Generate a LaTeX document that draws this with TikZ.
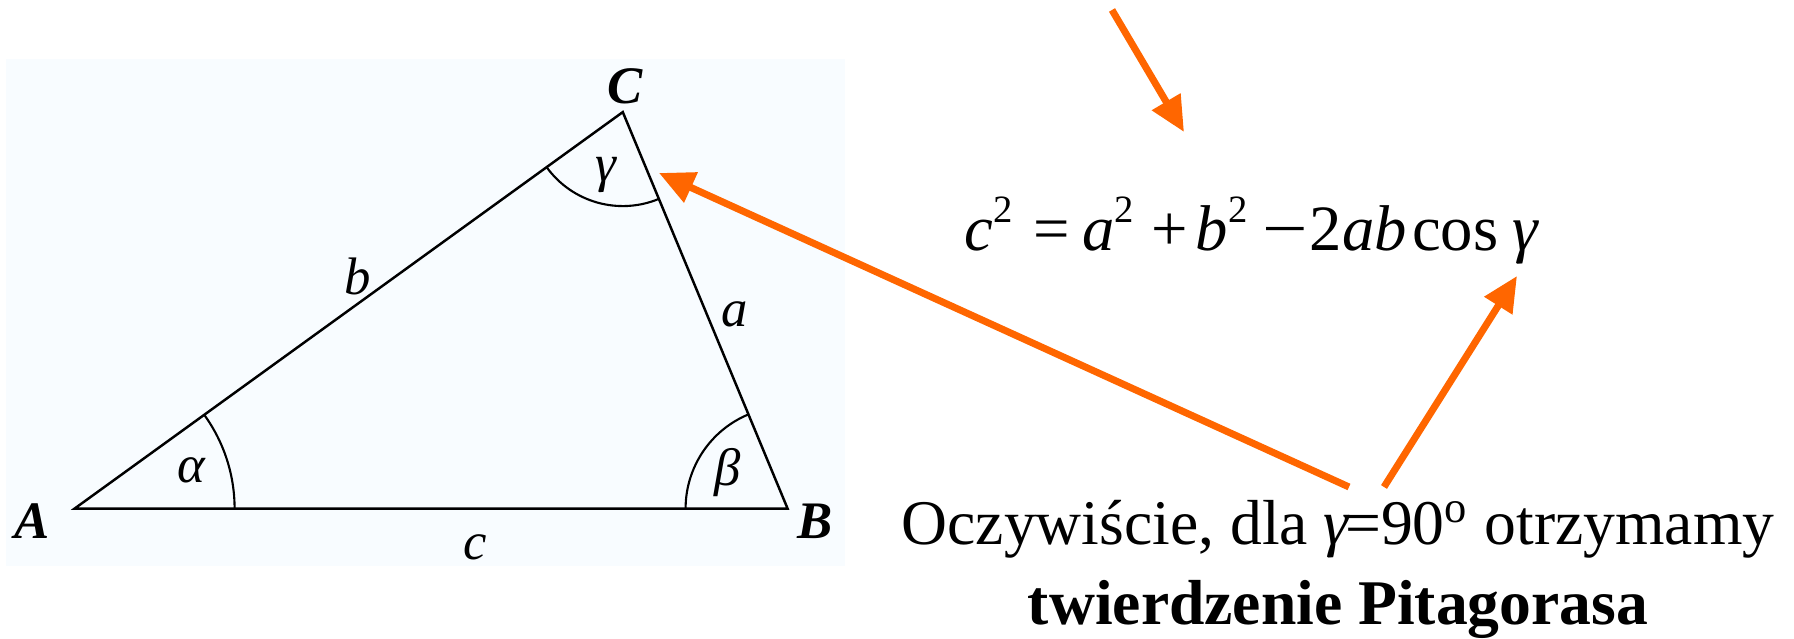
\documentclass[tikz,border=0pt]{standalone}
\usepackage{fontspec}
\setmainfont{Liberation Serif}
\usetikzlibrary{arrows.meta,angles,positioning}
\definecolor{hintorange}{RGB}{255,102,0}
\definecolor{paneblue}{RGB}{248,252,255}
\newcommand{\sqtwo}{\raisebox{8pt}{\fontsize{11}{11}\selectfont 2}}
\tikzset{
  tri edge/.style={line width=.7pt},
  tri arc/.style={draw,line width=.6pt},
  side label/.style={font=\fontsize{15}{18}\selectfont\itshape,inner sep=0pt},
  vertex label/.style={font=\fontsize{15}{18}\selectfont\bfseries\itshape,inner sep=0pt},
  hint arrow/.style={draw=hintorange,line width=2pt,-{Triangle[length=10pt,width=9pt]}},
  big text/.style={font=\fontsize{18.1}{22.6}\selectfont,inner sep=0pt}
}

\begin{document}
\begin{tikzpicture}
  \useasboundingbox (0,0) rectangle (17.94,6.39);
  \fill[paneblue] (0.06,0.73) rectangle (8.45,5.80);

  \coordinate (A) at (0.746,1.304);
  \coordinate (B) at (7.876,1.304);
  \coordinate (C) at (6.228,5.269);

  \draw[tri edge] (A)--(B)--(C)--cycle;
  \pic[tri arc,angle radius=1.6cm]  {angle=B--A--C};
  \pic[tri arc,angle radius=1.02cm] {angle=C--B--A};
  \pic[tri arc,angle radius=0.94cm] {angle=A--C--B};

  \node[vertex label] (labA) at (0.316,1.174) {A};
  \node[vertex label] (labB) at (8.150,1.174) {B};
  \node[vertex label] (labC) at (6.246,5.526) {C};
  \node[side label] (laba) at (7.350,3.250) {a};
  \node[side label] (labb) at (3.575,3.625) {b};
  \node[side label] (labc) at (4.753,0.915) {c};
  \node[side label] (alpha) at (1.910,1.683) {α};
  \node[side label] (beta)  at (7.280,1.663) {β};
  \node[side label] (gamma) at (6.056,4.640) {γ};

  \node[big text,font=\fontsize{18.4}{22.6}\selectfont,anchor=base west] (formula) at (9.64,3.88)
    {\textit{c}\sqtwo\kern5.8pt=\kern3.7pt\textit{a}\sqtwo\kern4.8pt+\kern2.3pt\textit{b}\sqtwo\kern4.3pt\scalebox{1.25}[1]{−}\kern.5pt 2\textit{ab}\kern1.5pt cos\kern4pt\textit{γ}};
  \node[big text,align=center,anchor=south] (note) at (13.38,0.0)
    {Oczywiście, dla \textit{γ}\kern-.08em=90\textsuperscript{o} otrzymamy\\\textbf{twierdzenie Pitagorasa}};

  \coordinate (topstart) at (11.12,6.29);
  \coordinate (topend)   at (11.84,5.07);
  \coordinate (noteL)    at (13.49,1.52);
  \coordinate (noteR)    at (13.84,1.52);
  \coordinate (atC)      at (6.59,4.66);
  \coordinate (atgamma)  at (15.17,3.63);

  \draw[hint arrow] (topstart) -- (topend);
  \draw[hint arrow] (noteL) -- (atC);
  \draw[hint arrow] (noteR) -- (atgamma);
\end{tikzpicture}
\end{document}
